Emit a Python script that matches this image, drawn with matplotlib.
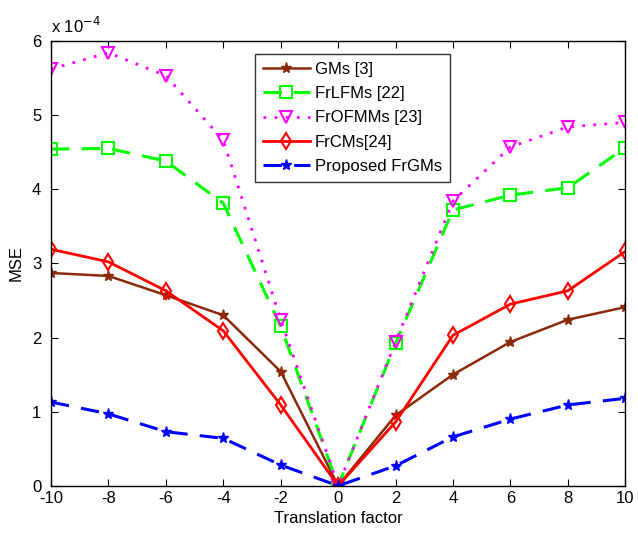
import matplotlib
matplotlib.use("Agg")
import matplotlib.pyplot as plt

plt.rcParams['font.family'] = ['Liberation Sans', 'DejaVu Sans']
plt.rcParams['axes.unicode_minus'] = False

x = [-10, -8, -6, -4, -2, 0, 2, 4, 6, 8, 10]
gms = [2.87, 2.83, 2.57, 2.30, 1.54, 0.0, 0.95, 1.50, 1.94, 2.24, 2.41]
frlfms = [4.54, 4.55, 4.38, 3.81, 2.15, 0.0, 1.92, 3.72, 3.92, 4.02, 4.56]
frofmms = [5.62, 5.84, 5.53, 4.66, 2.24, 0.0, 1.94, 3.84, 4.57, 4.84, 4.90]
frcms = [3.19, 3.02, 2.63, 2.09, 1.09, 0.0, 0.86, 2.03, 2.45, 2.63, 3.16]
proposed = [1.13, 0.97, 0.73, 0.64, 0.28, 0.0, 0.27, 0.66, 0.90, 1.09, 1.18]
labels = ['GMs [3]', 'FrLFMs [22]', 'FrOFMMs [23]', 'FrCMs[24]', 'Proposed FrGMs']
xticks = list(range(-10, 11, 2))
yticks = [0, 1, 2, 3, 4, 5, 6]

fig = plt.figure(figsize=(6.38, 5.38), dpi=100)
ax = fig.add_axes([0.08, 0.097, 0.9, 0.827])

brown = '#8B2A0A'
ax.plot(x, gms, color=brown, lw=1.8, marker='*', ms=8, mfc=brown, mec=brown, label=labels[0])
ax.plot(x, frlfms, color='#00FF00', lw=2.2, ls=(0, (6, 4)), marker='s', ms=8, mfc='none', mec='#00FF00', mew=1.5, label=labels[1])
ax.plot(x, frofmms, color='#FF00FF', lw=2.0, ls=(0, (1, 3)), marker='v', ms=9, mfc='none', mec='#FF00FF', mew=1.5, label=labels[2])
ax.plot(x, frcms, color='#FF0000', lw=2.0, marker='d', ms=8, mfc='none', mec='#FF0000', mew=1.5, label=labels[3])
ax.plot(x, proposed, color='#0000FF', lw=2.2, ls=(0, (6, 4)), marker='*', ms=8, mfc='#0000FF', mec='#0000FF', label=labels[4])

ax.set_xlim(-10, 10)
ax.set_ylim(0, 6)
ax.set_xticks(xticks)
ax.set_yticks(yticks)
ax.tick_params(direction='in', top=True, right=True, labelsize=12, length=5)
ax.tick_params(axis='x', pad=4)
ax.tick_params(axis='y', pad=7)
for s in ax.spines.values():
    s.set_linewidth(1.0)
ax.set_xlabel('Translation factor', fontsize=12, labelpad=3)
ax.set_ylabel('MSE', fontsize=12, labelpad=6)
ax.text(0.0, 1.012, r'x 10$^{-4}$', transform=ax.transAxes, fontsize=12, ha='left', va='bottom')

leg = ax.legend(loc='upper left', bbox_to_anchor=(0.34, 0.99), fontsize=12,
                frameon=True, fancybox=False, edgecolor='black', handlelength=2.8,
                borderpad=0.5, labelspacing=0.55, handletextpad=0.3)
leg.get_frame().set_linewidth(1.0)

fig.savefig('out.png', dpi=100)
